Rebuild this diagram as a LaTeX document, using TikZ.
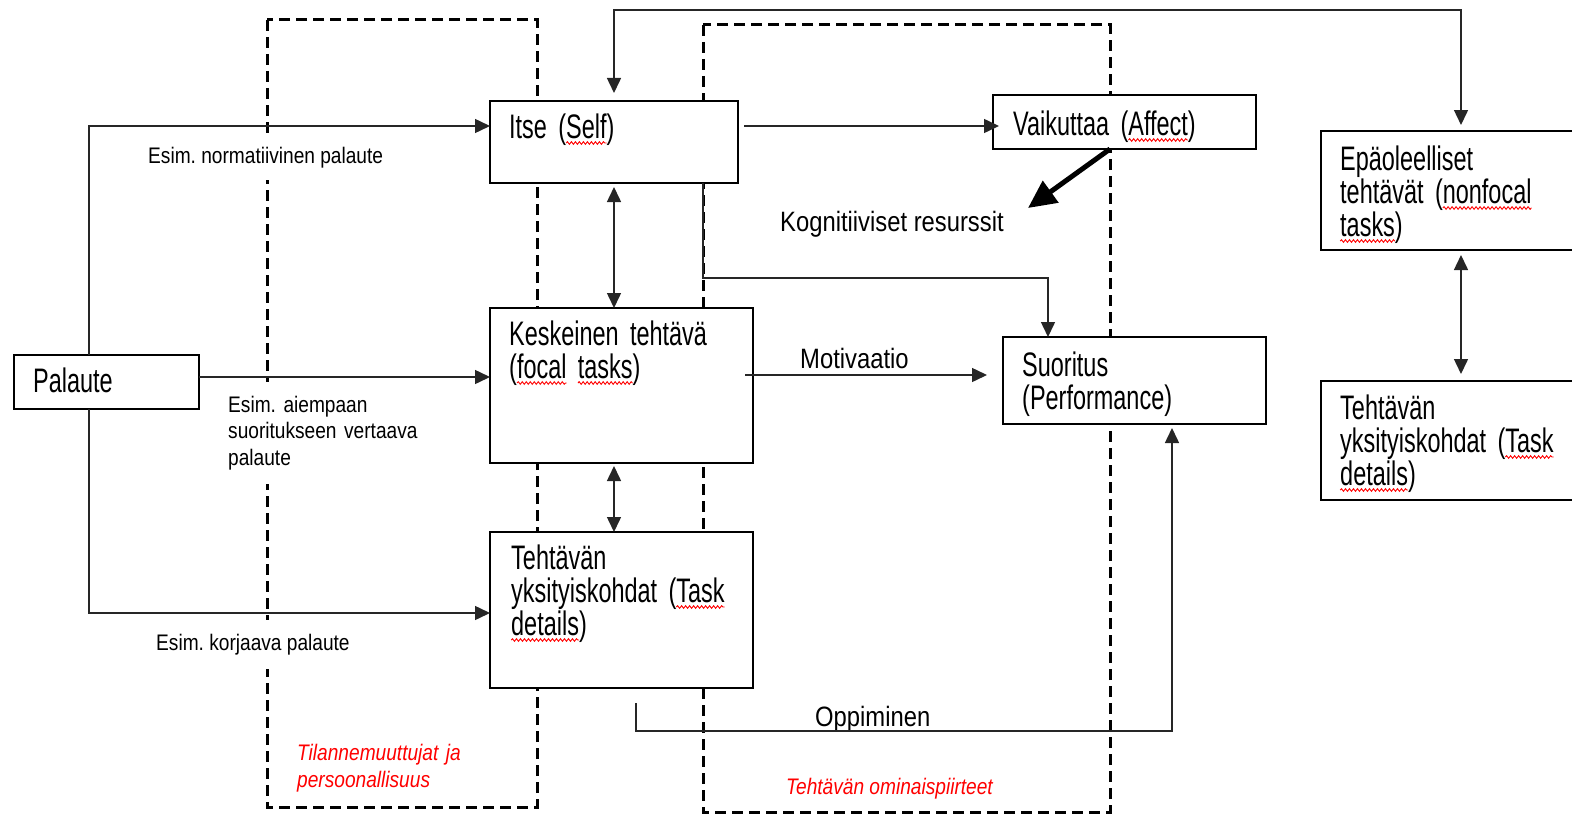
\documentclass[tikz,border=0pt]{standalone}
\usepackage{fontspec}
\usetikzlibrary{arrows.meta,decorations.pathmorphing}
\setmainfont{Liberation Sans}
\newfontfamily\boxfont{Liberation Sans}[FakeStretch=0.69]
\newfontfamily\lblfont{Liberation Sans}[FakeStretch=0.85]
\frenchspacing
\newcommand\boxfontsel{\boxfont\fontsize{34}{33}\selectfont\fontdimen2\font=6.5pt\relax}
\newlength\sqwidth
\newcommand\sq[1]{\leavevmode\settowidth\sqwidth{#1}\rlap{\tikz[baseline=0pt]{\useasboundingbox (0pt,0pt); \draw[red,line width=0.9pt,decorate,decoration={snake,amplitude=1.3pt,segment length=4pt}] (0pt,-5pt) -- (\sqwidth,-5pt);}}#1}
\tikzset{
  dbox/.style={line width=3pt, dash pattern=on 11pt off 6pt},
  blk/.style={draw, line width=2pt, fill=white, inner sep=0pt, outer sep=0pt, anchor=north west},
  btext/.style={anchor=base west, inner sep=0pt, align=left, text width=300pt, font=\boxfontsel},
  ltext/.style={anchor=base west, inner sep=0pt, font=\lblfont\fontsize{28}{30}\selectfont},
  stext/.style={anchor=base west, inner xsep=0pt, font=\lblfont\fontsize{22.5}{26.5}\selectfont},
  rtext/.style={anchor=base west, inner sep=0pt, text=red, font=\lblfont\itshape\fontsize{22.5}{27}\selectfont},
  conn/.style={line width=1.5pt, draw=black!85, -{Triangle[length=15pt,width=14pt]}},
  conn2/.style={line width=1.5pt, draw=black!85, {Triangle[length=15pt,width=14pt]}-{Triangle[length=15pt,width=14pt]}},
  thick arrow/.style={line width=5pt, -{Triangle[length=28pt,width=26pt]}}
}
\begin{document}
\begin{tikzpicture}[x=1pt,y=-1pt]
\useasboundingbox (0,0) rectangle (1572,816);
% dashed regions
\draw[dbox] (267,20) rectangle (537,807);
\draw[dbox] (703,25) rectangle (1110,812);
% labels with white background
\node[stext, fill=white, inner ysep=12pt] (lnorm) at (148,163) {Esim. normatiivinen palaute};
\node[stext, fill=white, inner ysep=14pt, align=left, text width=200pt] (laiem) at (228,412) {Esim. aiempaan\\suoritukseen vertaava\\palaute};
\node[stext, fill=white, inner ysep=14pt] (lkorj) at (156,650) {Esim. korjaava palaute};
% boxes
\node[blk, minimum width=185pt, minimum height=54pt] (palaute) at (14,355) {};
\node[blk, minimum width=248pt, minimum height=82pt] (itse) at (490,101) {};
\node[blk, minimum width=263pt, minimum height=54pt] (vaik) at (993,95) {};
\node[blk, minimum width=263pt, minimum height=155pt] (kesk) at (490,308) {};
\node[blk, minimum width=263pt, minimum height=156pt] (teht) at (490,532) {};
\node[blk, minimum width=263pt, minimum height=87pt] (suor) at (1003,337) {};
\node[blk, minimum width=280pt, minimum height=119pt] (epa) at (1321,131) {};
\node[blk, minimum width=280pt, minimum height=119pt] (teht2) at (1321,381) {};
% box texts
\node[btext] (tpal) at (33,392) {Palaute};
\node[btext] (titse) at (509,138) {Itse (\sq{Self})};
\node[btext] (tvaik) at (1013,135) {Vaikuttaa (\sq{Affect})};
\node[btext] (tkesk) at (509,345) {Keskeinen tehtävä\\(\sq{focal} \sq{tasks})};
\node[btext] (tteht) at (511,569) {Tehtävän\\yksityiskohdat (\sq{Task}\\\sq{details})};
\node[btext] (tsuor) at (1022,376) {Suoritus\\(Performance)};
\node[btext] (tepa) at (1340,170) {Epäoleelliset\\tehtävät (\sq{nonfocal}\\\sq{tasks})};
\node[btext] (tteht2) at (1340,419) {Tehtävän\\yksityiskohdat (\sq{Task}\\\sq{details})};
% free labels
\node[ltext] (kog) at (780,231) {Kognitiiviset resurssit};
\node[ltext] (mot) at (800,368) {Motivaatio};
\node[ltext] (opp) at (815,726) {Oppiminen};
\node[rtext, align=left, text width=200pt] (rtil) at (297,760) {Tilannemuuttujat ja\\persoonallisuus};
\node[rtext] (rteh) at (786,794) {Tehtävän ominaispiirteet};
% helper coordinates
\coordinate (topY) at (0,10);
\coordinate (kx) at (kesk.south -| itse.south);
\coordinate (c1) at (1048,278);
\coordinate (oppst) at (636,703);
\coordinate (c2) at (1172,731);
\coordinate (kogtip) at (1028,208);
% connectors
\draw[conn] ([xshift=-17.5pt]palaute.north) |- ([yshift=16pt]itse.west);
\draw[conn] ([yshift=5pt]palaute.east) -- ([yshift=5pt]palaute.east -| kesk.west);
\draw[conn] ([xshift=-17.5pt]palaute.south) |- ([yshift=-3pt]teht.west);
\draw[conn] ([xshift=6pt,yshift=16pt]itse.east) -- ([xshift=6pt,yshift=16pt]itse.east -| vaik.west);
\draw[conn2] ([yshift=8pt]itse.north) -- (itse.north |- topY) -- (epa.north |- topY) -- ([yshift=6pt]epa.north);
\draw[conn2] ([yshift=-4pt]itse.south) -- (itse.south |- kesk.north);
\draw[conn2] ([yshift=-3pt]kx) -- (itse.south |- teht.north);
\draw[conn] ([xshift=-35pt]itse.south east) |- (c1) -- (c1 |- suor.north);
\draw[conn, shorten >=8pt] ([xshift=-8pt,yshift=10.5pt]kesk.east) -- ([xshift=-8pt,yshift=10.5pt]kesk.east -| suor.west);
\draw[conn, shorten >=4pt] (oppst) |- (c2) -- (c2 |- suor.south);
\draw[conn2, shorten <=5pt, shorten >=7pt] (epa.south) -- (teht2.north);
\draw[thick arrow] ([xshift=-14.5pt]vaik.south) -- (kogtip);
\end{tikzpicture}
\end{document}
